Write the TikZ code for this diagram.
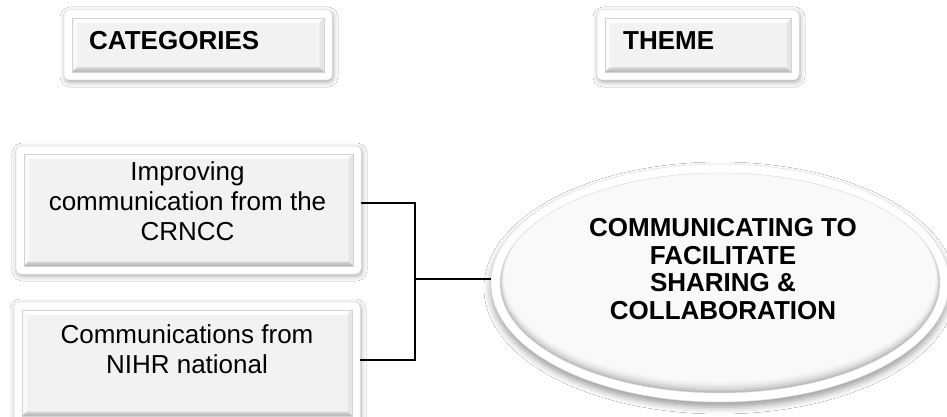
\documentclass[tikz,border=0pt]{standalone}
\usepackage{fontspec}
\setmainfont{Liberation Sans}
\usetikzlibrary{calc,shapes.geometric,shadows.blur}

\definecolor{facefill}{HTML}{F2F2F2}
\definecolor{ellfill}{HTML}{F4F4F4}

\tikzset{
  framebox/.style={rectangle, rounded corners=5pt, fill=white, draw=gray!22,
    line width=0.5pt, inner sep=0pt,
    blur shadow={shadow xshift=1pt, shadow yshift=-2pt, shadow blur radius=5pt, shadow opacity=35}},
  framell/.style={ellipse, fill=white, draw=gray!25, line width=0.5pt, inner sep=0pt,
    blur shadow={shadow xshift=0pt, shadow yshift=-5pt, shadow blur radius=7pt, shadow opacity=40}},
  headtext/.style={font=\fontsize{26}{30}\selectfont\bfseries, inner sep=0pt, anchor=base west},
  boxtext/.style={font=\fontsize{26}{30}\selectfont, align=center, inner sep=0pt, anchor=south},
  elltext/.style={font=\fontsize{26}{27.6}\selectfont\bfseries, align=center, inner sep=0pt, anchor=south},
  conn/.style={draw=black, line width=1.7pt},
}

% bevelled face inside a framed box node
\newcommand\bevelface[1]{%
  \path ($(#1.north west)+(8,8)$) coordinate (#1A)
        ($(#1.north east)+(-8,8)$) coordinate (#1B)
        ($(#1.south east)+(-8,-8)$) coordinate (#1C)
        ($(#1.south west)+(8,-8)$) coordinate (#1D)
        ($(#1A)+(5,5)$) coordinate (#1a)
        ($(#1B)+(-5,5)$) coordinate (#1b)
        ($(#1C)+(-5,-5)$) coordinate (#1c)
        ($(#1D)+(5,-5)$) coordinate (#1d);
  \fill[facefill] (#1a) -- (#1b) -- (#1c) -- (#1d) -- cycle;
  \fill[white] (#1A) -- (#1B) -- (#1b) -- (#1a) -- cycle;
  \fill[gray!5] (#1A) -- (#1a) -- (#1d) -- (#1D) -- cycle;
  \fill[gray!20] (#1B) -- (#1C) -- (#1c) -- (#1b) -- cycle;
  \shade[top color=gray!30, bottom color=gray!62] (#1D) -- (#1d) -- (#1c) -- (#1C) -- cycle;
  \draw[gray!35, line width=0.4pt] (#1A) rectangle (#1C);
}

\begin{document}
\begin{tikzpicture}[x=1pt, y=-1pt]
  \fill[white] (0,0) rectangle (947,417);
  \useasboundingbox (0,0) rectangle (947,417);

  % column headings
  \node[framebox, minimum width=268pt, minimum height=70pt] (hcat) at (198,45) {};
  \bevelface{hcat}
  \node[headtext] (hcatt) at (89,50) {CATEGORIES};

  \node[framebox, minimum width=202pt, minimum height=70pt] (hthm) at (698,45) {};
  \bevelface{hthm}
  \node[headtext] (hthmt) at (623,50) {THEME};

  % category boxes
  \node[framebox, minimum width=345pt, minimum height=128pt] (b1) at (188.5,210) {};
  \bevelface{b1}
  \node[boxtext] (b1t) at (187.5,241) {Improving\\communication from the\\CRNCC};

  \node[framebox, minimum width=346pt, minimum height=122pt] (b2) at (187,363) {};
  \bevelface{b2}
  \node[boxtext] (b2t) at (187,374) {Communications from\\NIHR national};

  % theme ellipse
  \node[framell, minimum width=458pt, minimum height=238pt] (th) at (720,283) {};
  \foreach \i/\g in {0/55,1/42,2/32,3/24,4/17,5/12,6/8,7/4.5}
    \fill[gray!\g] (720,{283-0.8*\i}) ellipse [x radius={220-0.6*\i}, y radius={110-0.8*\i}];
  \draw[gray!22, line width=0.5pt] (720,283) ellipse [x radius=220, y radius=110];
  \node[elltext] (tht) at (723,320) {COMMUNICATING TO\\FACILITATE\\SHARING \&\\COLLABORATION};

  % connectors
  \coordinate (j) at (415,279);
  \draw[conn] ([yshift=7pt]b1.east) -| (j);
  \draw[conn] ([yshift=3pt]b2.east) -| (j);
  \draw[conn] (j) -- (j -| th.west);
\end{tikzpicture}
\end{document}
